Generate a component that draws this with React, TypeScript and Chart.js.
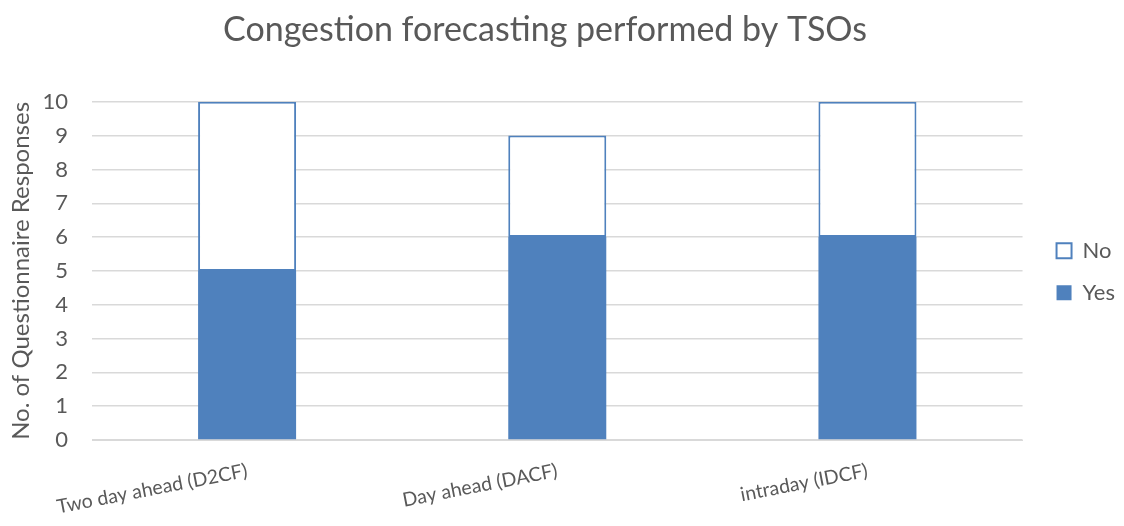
import React, { useEffect, useRef } from "react";
import { Chart, registerables } from "chart.js";

Chart.register(...registerables);

const categories = ["Two day ahead (D2CF)", "Day ahead (DACF)", "intraday (IDCF)"];
const yesValues = [5, 6, 6];
const noValues = [5, 3, 4];
const yTicks = [0, 1, 2, 3, 4, 5, 6, 7, 8, 9, 10];

const FONT = "Lato, 'Open Sans', sans-serif";
const GREY = "#595959";
const BLUE = "#4f81bd";

const blockShift = {
  id: "blockShift",
  afterLayout(chart: any) {
    const l = chart.legend;
    if (l) {
      l.left += 14;
      l.right += 14;
    }
    const t = chart.titleBlock;
    if (t) {
      t.left -= 14;
      t.right -= 14;
    }
  },
};

export default function App() {
  const ref = useRef<HTMLCanvasElement | null>(null);
  useEffect(() => {
    if (!ref.current) return;
    const chart = new Chart(ref.current, {
      type: "bar",
      plugins: [blockShift],
      data: {
        labels: categories,
        datasets: [
          {
            label: "Yes",
            data: yesValues,
            backgroundColor: BLUE,
            borderColor: BLUE,
            borderWidth: 0,
            categoryPercentage: 1,
            barPercentage: 0.316,
          },
          {
            label: "No",
            data: noValues,
            backgroundColor: "#ffffff",
            borderColor: BLUE,
            borderWidth: 2,
            borderSkipped: false,
            categoryPercentage: 1,
            barPercentage: 0.316,
          },
        ],
      },
      options: {
        animation: false,
        responsive: true,
        maintainAspectRatio: false,
        layout: { padding: { left: 7, right: 13, bottom: 0 } },
        plugins: {
          title: {
            display: true,
            text: "Congestion forecasting performed by TSOs",
            color: GREY,
            font: { family: FONT, size: 34, weight: "normal" },
            padding: { top: 10, bottom: 51 },
          },
          legend: {
            position: "right",
            reverse: true,
            title: { display: true, text: " ", font: { size: 8 }, padding: 4 },
            labels: {
              color: GREY,
              font: { family: FONT, size: 22 },
              boxWidth: 15,
              boxHeight: 15,
              padding: 20,
            },
          },
          tooltip: { enabled: false },
        },
        scales: {
          x: {
            stacked: true,
            grid: { display: false },
            border: { display: true, color: "#d9d9d9" },
            ticks: {
              color: GREY,
              font: { family: FONT, size: 19.5 },
              minRotation: 11,
              maxRotation: 11,
              padding: 11,
            },
            afterFit: (axis: any) => {
              axis.paddingLeft = 0;
              axis.paddingRight = 0;
              axis.height = 86;
            },
          },
          y: {
            stacked: true,
            min: 0,
            max: 10,
            afterBuildTicks: (axis: any) => {
              axis.ticks = yTicks.map((v) => ({ value: v }));
            },
            afterFit: (axis: any) => {
              axis.width = 85;
            },
            grid: { color: "#d9d9d9", lineWidth: 1.5, drawTicks: false },
            border: { display: false },
            ticks: {
              color: GREY,
              font: { family: FONT, size: 22 },
              padding: 24,
            },
            title: {
              display: true,
              text: "No. of Questionnaire Responses",
              color: GREY,
              font: { family: FONT, size: 24 },
              padding: { top: 0, bottom: 6 },
            },
          },
        },
      },
    });
    return () => chart.destroy();
  }, []);
  return (
    <div style={{ position: "fixed", left: 0, top: 0, width: 1124, height: 526, background: "#fff" }}>
      <canvas ref={ref} />
    </div>
  );
}
